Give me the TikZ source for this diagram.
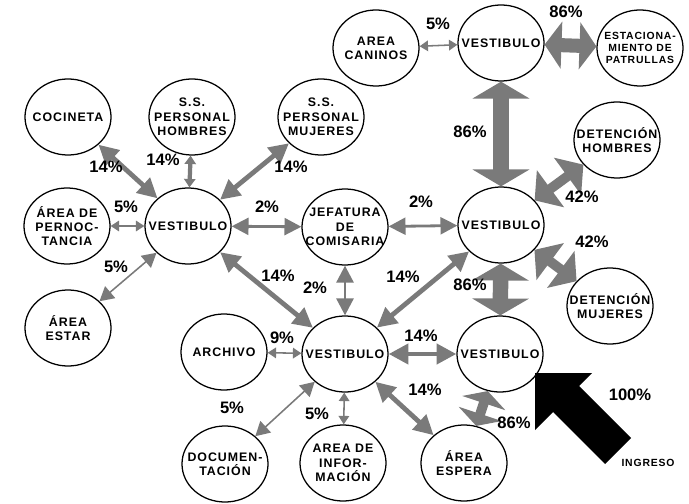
\documentclass[tikz,border=0pt]{standalone}
\usepackage{fontspec}
\setmainfont{Liberation Sans}
\newfontfamily\roomfont[LetterSpace=8]{Liberation Sans}
\usetikzlibrary{arrows.meta,shapes.geometric}
\definecolor{flowgray}{RGB}{122,122,122}

\begin{document}
\begin{tikzpicture}[x=0.025cm, y=-0.025cm,
  room/.style={ellipse, draw, line width=0.9pt, fill=white,
    minimum width=2.15cm, minimum height=1.9cm, inner sep=0pt},
  roomtext/.style={align=center, inner sep=0pt,
    font=\roomfont\fontsize{8.8}{10.2}\bfseries},
  pct/.style={font=\fontsize{11.8}{13}\bfseries, inner sep=0pt},
  pfive/.style={flowgray, line width=1.1pt,
    {Triangle[length=6pt,width=7.5pt]}-{Triangle[length=6pt,width=7.5pt]}},
  pfivebig/.style={flowgray, line width=1.1pt,
    {Triangle[length=10pt,width=11pt]}-{Triangle[length=10pt,width=11pt]}},
  ptwo/.style={flowgray, line width=2pt,
    {Triangle[length=12pt,width=12pt]}-{Triangle[length=12pt,width=12pt]}},
  pfourteen/.style={flowgray, line width=3.4pt,
    {Triangle[length=14pt,width=14pt]}-{Triangle[length=14pt,width=14pt]}},
  pfourteenshort/.style={flowgray, line width=3pt,
    {Triangle[length=6pt,width=8pt]}-{Triangle[length=6pt,width=8pt]}},
  pfortytwo/.style={flowgray, line width=7pt,
    {Triangle[length=14pt,width=32pt]}-{Triangle[length=14pt,width=32pt]}},
  peightysix/.style={flowgray, line width=11pt,
    {Triangle[length=12pt,width=40pt]}-{Triangle[length=12pt,width=40pt]}},
  peightysixh/.style={flowgray, line width=10pt,
    {Triangle[length=12pt,width=33pt]}-{Triangle[length=12pt,width=33pt]}},
  peightysixs/.style={flowgray, line width=7pt,
    {Triangle[length=9pt,width=32pt]}-{Triangle[length=9pt,width=32pt]}}]

  \useasboundingbox (0,0) rectangle (689,504);

  %% ── Rooms, left wing ────────────────────────────────────────────
  \node[room, label={[roomtext]center:COCINETA}] (coc) at (68,117) {};
  \node[room, label={[roomtext]center:S.S.\\PERSONAL\\HOMBRES}] (ssh) at (192,117) {};
  \node[room, label={[roomtext]center:S.S.\\PERSONAL\\MUJERES}] (ssm) at (321,117) {};
  \node[room, label={[roomtext]center:ÁREA DE\\PERNOC-\\TANCIA}] (per) at (67,226) {};
  \node[room, label={[roomtext]center:VESTIBULO}] (v1) at (188,226) {};
  \node[room, label={[roomtext]center:ÁREA\\ESTAR}] (estar) at (68,328) {};

  %% ── Rooms, centre ───────────────────────────────────────────────
  \node[room, label={[roomtext]center:JEFATURA\\DE\\COMISARIA}] (jef) at (345,227) {};
  \node[room, label={[roomtext]center:ARCHIVO}] (arch) at (224,352) {};
  \node[room, label={[roomtext]center:VESTIBULO}] (v3) at (345,354) {};
  \node[room, label={[roomtext]center:DOCUMEN-\\TACIÓN}] (doc) at (225,464) {};
  \node[room, label={[roomtext]center:AREA DE\\INFOR-\\MACIÓN}] (info) at (343,463) {};
  \node[room, label={[roomtext]center:ÁREA\\ESPERA}] (esp) at (464,463) {};

  %% ── Rooms, right wing ───────────────────────────────────────────
  \node[room, label={[roomtext]center:AREA\\CANINOS}] (can) at (376,48) {};
  \node[room, label={[roomtext]center:VESTIBULO}] (v5) at (501,43) {};
  \node[room, label={[roomtext, font=\roomfont\fontsize{7.4}{8.6}\bfseries]center:ESTACIONA-\\MIENTO DE\\PATRULLAS}] (est) at (640,48) {};
  \node[room, label={[roomtext]center:DETENCIÓN\\HOMBRES}] (dh) at (617,140) {};
  \node[room, label={[roomtext]center:VESTIBULO}] (v2) at (501,225) {};
  \node[room, label={[roomtext]center:DETENCIÓN\\MUJERES}] (dm) at (610,306) {};
  \node[room, label={[roomtext]center:VESTIBULO}] (v4) at (500,354) {};

  %% ── Flows round the left vestibule ──────────────────────────────
  \draw[pfourteen] (coc) -- (v1);
  \draw[pfourteenshort] (ssh) -- (v1);
  \draw[pfourteen] (ssm) -- (v1);
  \draw[pfive] (per) -- (v1);
  \draw[pfivebig] (estar) -- (v1);
  \draw[ptwo] (v1) -- (jef);
  \draw[pfourteen] (v1) -- (v3);

  %% ── Flows round the centre vestibule ────────────────────────────
  \draw[ptwo] (jef) -- (v2);
  \draw[ptwo] (jef) -- (v3);
  \draw[pfourteen] (v3) -- (v2);
  \draw[pfive] (arch) -- (v3);
  \draw[pfivebig] (doc) -- (v3);
  \draw[pfive] (info) -- (v3);
  \draw[pfourteen] (v3) -- (v4);
  \draw[pfourteen] (v3) -- (esp);

  %% ── Flows on the right ──────────────────────────────────────────
  \draw[pfive] (can) -- (v5);
  \draw[peightysixh] (v5) -- (est);
  \draw[peightysix] (v5) -- (v2);
  \draw[pfortytwo] (v2) -- (dh);
  \draw[pfortytwo] (v2) -- (dm);
  \draw[peightysix] (v2) -- (v4);
  \draw[peightysixs] (v4) -- (esp);

  %% ── Entrance arrow ──────────────────────────────────────────────
  \coordinate (intip) at (535,373);
  \fill[black] (intip) -- (592,373) -- (579,386) -- (631,438)
    -- (605,464) -- (553,412) -- (535,430) -- cycle;

  %% ── Percentages ─────────────────────────────────────────────────
  \node[pct] (lcoc) at (106,167) {14\%};
  \node[pct] (lssh) at (163,160) {14\%};
  \node[pct] (lssm) at (291,167) {14\%};
  \node[pct] (lper) at (126,207) {5\%};
  \node[pct] (lestar) at (116,267) {5\%};
  \node[pct] (ljefa) at (267,207) {2\%};
  \node[pct] (lvonethree) at (278,276) {14\%};
  \node[pct] (ljefb) at (421,202) {2\%};
  \node[pct] (ljefc) at (315,288) {2\%};
  \node[pct] (lvthreetwo) at (403,277) {14\%};
  \node[pct] (larch) at (282,338) {9\%};
  \node[pct] (ldoc) at (232,408) {5\%};
  \node[pct] (linfo) at (317,414) {5\%};
  \node[pct] (lvthreefour) at (421,336) {14\%};
  \node[pct] (lesp) at (425,390) {14\%};
  \node[pct] (lvfouresp) at (514,423) {86\%};
  \node[pct] (lvfivetwo) at (470,132) {86\%};
  \node[pct] (lest) at (566,12) {86\%};
  \node[pct] (lcan) at (438,24) {5\%};
  \node[pct] (ldh) at (582,197) {42\%};
  \node[pct] (ldm) at (592,242) {42\%};
  \node[pct] (lvtwofour) at (470,285) {86\%};
  \node[pct] (lin) at (630,395) {100\%};
  \node[font=\roomfont\fontsize{7.4}{9}\bfseries, inner sep=0pt] (lingreso) at (648,463) {INGRESO};

\end{tikzpicture}
\end{document}
